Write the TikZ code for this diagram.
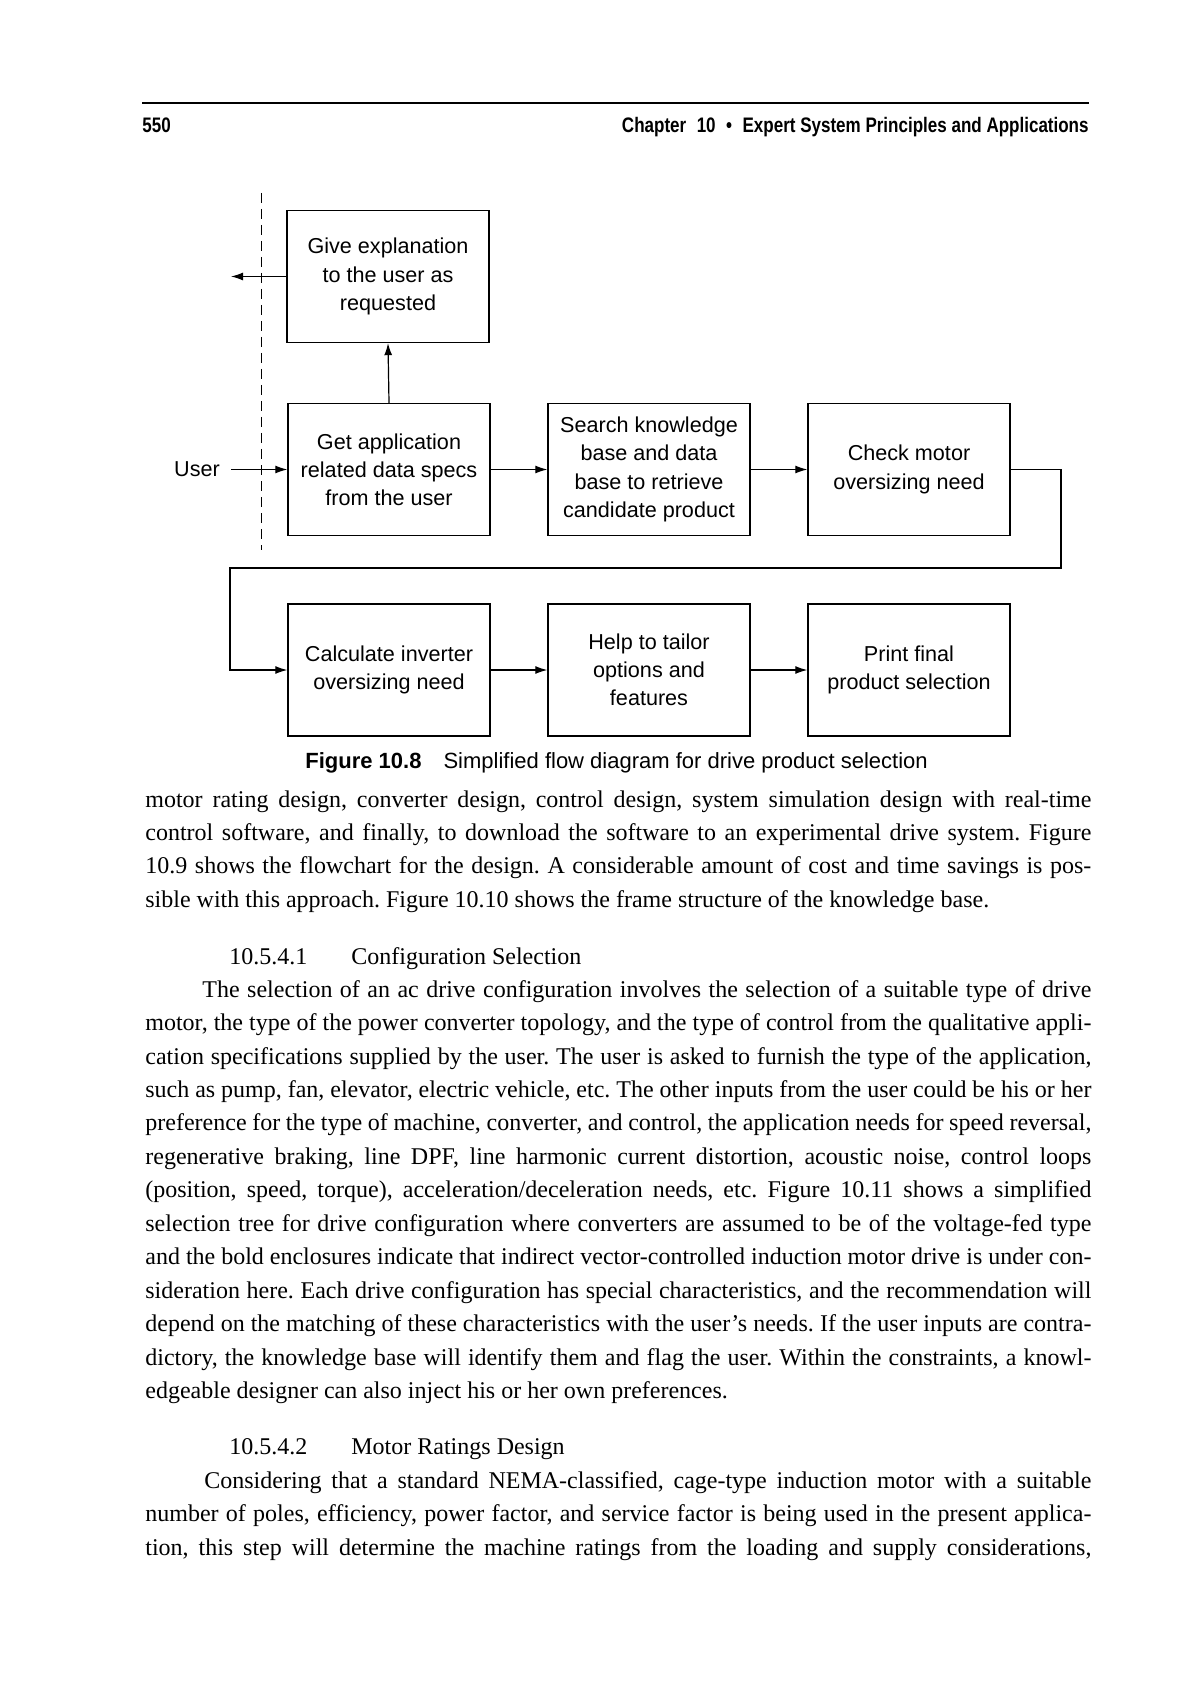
\documentclass[tikz,border=0pt]{standalone}
\usepackage{fontspec}
\setmainfont{Liberation Serif}
\newfontfamily\diagf{Liberation Sans}
\newfontfamily\hdrf[FakeStretch=0.81]{Liberation Sans}
\usetikzlibrary{arrows.meta}
\frenchspacing
\newcommand\jline[4]{\node[body] (#1) at (#2,#3+4) {\makebox[\dimexpr(1091pt-#2pt)/2\relax][s]{#4}};}
\newcommand\fline[4]{\node[body] (#1) at (#2,#3+4) {#4};}
\begin{document}
\begin{tikzpicture}[x=0.5pt,y=-0.5pt,
  box/.style={draw,line width=0.7pt,minimum width=101pt,minimum height=66pt,align=center,inner sep=0pt,font=\diagf\fontsize{10.8}{14.1}\selectfont},
  conn/.style={line width=0.6pt,-{Latex[length=6pt,width=4pt]}},
  divider/.style={line width=0.5pt,dash pattern=on 5pt off 3pt},
  body/.style={anchor=base west,inner sep=0pt,font=\frenchspacing\fontsize{12}{14}\selectfont},
  hdr/.style={inner sep=0pt,font=\hdrf\bfseries\fontsize{10.5}{12}\selectfont},
]
\useasboundingbox (0,0) rectangle (1190,1684);
% running head
\draw[line width=1pt] (142,103) -- (1089,103);
\node[hdr,anchor=base west] (pg) at (142,133) {550};
\node[hdr,anchor=base east] (chap) at (1089,133) {Chapter\enspace 10\enspace •\enspace Expert System Principles and Applications};
% diagram
\node[box] (give) at (388,276.5) {Give explanation\\to the user as\\requested};
\node[box] (get) at (389,469.5) {Get application\\related data specs\\from the user};
\node[box] (search) at (649,469.5) {Search knowledge\\base and data\\base to retrieve\\candidate product};
\node[box] (check) at (909,469.5) {Check motor\\oversizing need};
\node[box] (calc) at (389,670) {Calculate inverter\\oversizing need};
\node[box] (help) at (649,670) {Help to tailor\\options and\\features};
\node[box] (print) at (909,670) {Print final\\product selection};
\node[inner ysep=0pt,inner xsep=5.5pt,font=\diagf\fontsize{10.8}{13}\selectfont] (user) at (197,469.5) {User};
\coordinate (dtop) at (261,193);
\coordinate (dbot) at (261,550);
\draw[divider] (dtop) -- (dbot);
\coordinate (expl) at (231,276.5);
\coordinate (r1) at (1061,568);
\coordinate (r2) at (230,568);
\draw[conn] (give.west) -- (expl);
\draw[conn] (user.east) -- (get.west);
\draw[conn] (get.north) -- (give.south);
\draw[conn] (get.east) -- (search.west);
\draw[conn] (search.east) -- (check.west);
\draw[conn] (check.east) -| (r1) -- (r2) |- (calc.west);
\draw[conn] (calc.east) -- (help.west);
\draw[conn] (help.east) -- (print.west);
\node[anchor=base west,inner sep=0pt,font=\diagf\fontsize{11}{13}\selectfont] (cap) at (305,768) {\textbf{Figure 10.8}\quad Simplified flow diagram for drive product selection};
% body text
\jline{a1}{145}{803}{motor rating design, converter design, control design, system simulation design with real-time}
\jline{a2}{145}{836.4}{control software, and finally, to download the software to an experimental drive system. Figure}
\jline{a3}{145}{869.8}{10.9 shows the flowchart for the design. A considerable amount of cost and time savings is pos-}
\fline{a4}{145}{903.2}{sible with this approach. Figure 10.10 shows the frame structure of the knowledge base.}
\fline{h1n}{229}{960}{10.5.4.1}
\fline{h1t}{351}{960}{Configuration Selection}
\jline{b1}{202}{993}{The selection of an ac drive configuration involves the selection of a suitable type of drive}
\jline{b2}{145}{1026.5}{motor, the type of the power converter topology, and the type of control from the qualitative appli-}
\jline{b3}{145}{1060}{cation specifications supplied by the user. The user is asked to furnish the type of the application,}
\jline{b4}{145}{1093.4}{such as pump, fan, elevator, electric vehicle, etc. The other inputs from the user could be his or her}
\jline{b5}{145}{1126.9}{preference for the type of machine, converter, and control, the application needs for speed reversal,}
\jline{b6}{145}{1160.3}{regenerative braking, line DPF, line harmonic current distortion, acoustic noise, control loops}
\jline{b7}{145}{1193.8}{(position, speed, torque), acceleration/deceleration needs, etc. Figure 10.11 shows a simplified}
\jline{b8}{145}{1227.2}{selection tree for drive configuration where converters are assumed to be of the voltage-fed type}
\jline{b9}{145}{1260.6}{and the bold enclosures indicate that indirect vector-controlled induction motor drive is under con-}
\jline{b10}{145}{1294.1}{sideration here. Each drive configuration has special characteristics, and the recommendation will}
\jline{b11}{145}{1327.5}{depend on the matching of these characteristics with the user’s needs. If the user inputs are contra-}
\jline{b12}{145}{1361}{dictory, the knowledge base will identify them and flag the user. Within the constraints, a knowl-}
\fline{b13}{145}{1394.4}{edgeable designer can also inject his or her own preferences.}
\fline{h2n}{229}{1450}{10.5.4.2}
\fline{h2t}{351}{1450}{Motor Ratings Design}
\jline{c1}{204}{1484}{Considering that a standard NEMA-classified, cage-type induction motor with a suitable}
\jline{c2}{145}{1517.5}{number of poles, efficiency, power factor, and service factor is being used in the present applica-}
\jline{c3}{145}{1551}{tion, this step will determine the machine ratings from the loading and supply considerations,}
\end{tikzpicture}
\end{document}
